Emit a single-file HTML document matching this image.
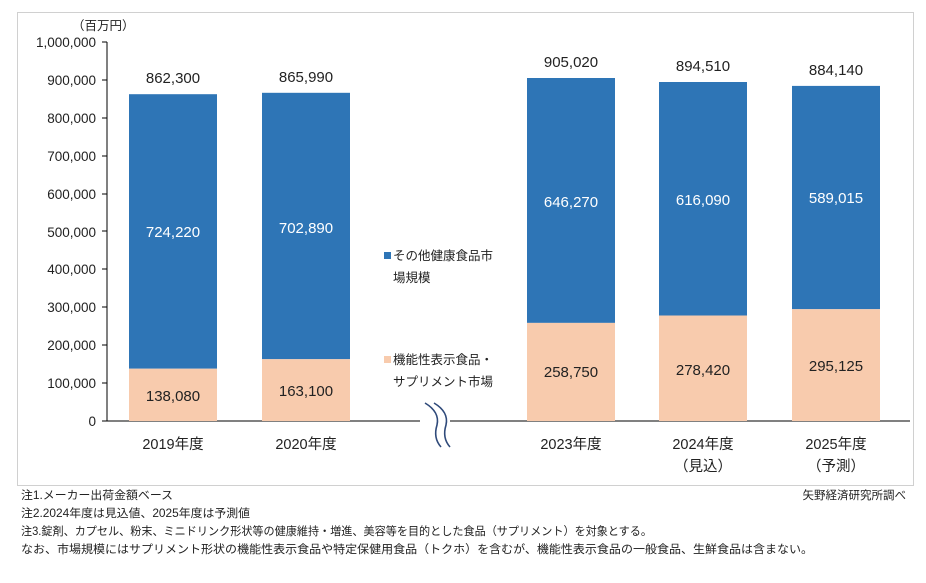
<!DOCTYPE html>
<html><head><meta charset="utf-8"><style>
body{margin:0;background:#fff;width:926px;height:578px;overflow:hidden;font-family:"Liberation Sans","Noto Sans CJK JP",sans-serif;}
svg text{font-family:"Liberation Sans","Noto Sans CJK JP",sans-serif;}
</style></head><body>
<svg width="926" height="578" xmlns="http://www.w3.org/2000/svg">
<rect x="17.5" y="12.5" width="896" height="473" fill="none" stroke="#d0d0d0"/>
<text x="72" y="30" font-size="12.5" fill="#222">（百万円）</text>
<g font-size="13.5" fill="#222" text-anchor="end">
<text x="96" y="47">1,000,000</text><text x="96" y="85">900,000</text><text x="96" y="123">800,000</text>
<text x="96" y="161">700,000</text><text x="96" y="199">600,000</text><text x="96" y="237">500,000</text>
<text x="96" y="274">400,000</text><text x="96" y="312">300,000</text><text x="96" y="350">200,000</text>
<text x="96" y="388">100,000</text><text x="96" y="426">0</text>
</g>
<g stroke="#000" stroke-width="1">
<line x1="107" y1="42" x2="107" y2="421"/>
<line x1="107" y1="421" x2="910" y2="421"/>
<line x1="102" y1="42" x2="107" y2="42"/><line x1="102" y1="80" x2="107" y2="80"/><line x1="102" y1="118" x2="107" y2="118"/>
<line x1="102" y1="156" x2="107" y2="156"/><line x1="102" y1="194" x2="107" y2="194"/><line x1="102" y1="231" x2="107" y2="231"/>
<line x1="102" y1="269" x2="107" y2="269"/><line x1="102" y1="307" x2="107" y2="307"/><line x1="102" y1="345" x2="107" y2="345"/>
<line x1="102" y1="383" x2="107" y2="383"/><line x1="102" y1="421" x2="107" y2="421"/>
</g>
<g>
<rect x="129" y="94.2" width="88" height="274.5" fill="#2e75b6"/><rect x="129" y="368.7" width="88" height="52.3" fill="#f8cbad"/>
<rect x="262" y="92.8" width="88" height="266.4" fill="#2e75b6"/><rect x="262" y="359.2" width="88" height="61.8" fill="#f8cbad"/>
<rect x="527" y="78" width="88" height="244.9" fill="#2e75b6"/><rect x="527" y="322.9" width="88" height="98.1" fill="#f8cbad"/>
<rect x="659" y="82" width="88" height="233.5" fill="#2e75b6"/><rect x="659" y="315.5" width="88" height="105.5" fill="#f8cbad"/>
<rect x="792" y="85.9" width="88" height="223.3" fill="#2e75b6"/><rect x="792" y="309.2" width="88" height="111.8" fill="#f8cbad"/>
</g>
<g font-size="15" text-anchor="middle" fill="#222">
<text x="173" y="83">862,300</text><text x="306" y="82">865,990</text><text x="571" y="67">905,020</text><text x="703" y="71">894,510</text><text x="836" y="75">884,140</text>
<text x="173" y="401">138,080</text><text x="306" y="396">163,100</text><text x="571" y="377">258,750</text><text x="703" y="375">278,420</text><text x="836" y="371">295,125</text>
</g>
<g font-size="15" text-anchor="middle" fill="#fff">
<text x="173" y="237">724,220</text><text x="306" y="233">702,890</text><text x="571" y="207">646,270</text><text x="703" y="205">616,090</text><text x="836" y="203">589,015</text>
</g>
<g font-size="14.5" text-anchor="middle" fill="#222">
<text x="173" y="449">2019年度</text><text x="306" y="449">2020年度</text><text x="571" y="449">2023年度</text>
<text x="703" y="449">2024年度</text><text x="703" y="471">（見込）</text>
<text x="836" y="449">2025年度</text><text x="836" y="471">（予測）</text>
</g>
<rect x="420" y="405" width="30" height="45" fill="#fff"/>
<path d="M425,403 Q440,412 437,425 Q433,438 441,447" fill="none" stroke="#2f4a7a" stroke-width="1.6"/>
<path d="M434,403 Q449,412 446,425 Q442,438 450,447" fill="none" stroke="#2f4a7a" stroke-width="1.6"/>
<rect x="384" y="252" width="7" height="7" fill="#2e75b6"/>
<text x="393" y="260" font-size="12.5" fill="#222">その他健康食品市</text>
<text x="393" y="282" font-size="12.5" fill="#222">場規模</text>
<rect x="384" y="356" width="7" height="7" fill="#f8cbad"/>
<text x="393" y="364" font-size="12.5" fill="#222">機能性表示食品・</text>
<text x="393" y="386" font-size="12.5" fill="#222">サプリメント市場</text>
<g font-size="11.5" fill="#222">
<text x="21" y="499" textLength="152" lengthAdjust="spacingAndGlyphs">注1.メーカー出荷金額ベース</text>
<text x="21" y="517" textLength="229" lengthAdjust="spacingAndGlyphs">注2.2024年度は見込値、2025年度は予測値</text>
<text x="21" y="535" textLength="631" lengthAdjust="spacingAndGlyphs">注3.錠剤、カプセル、粉末、ミニドリンク形状等の健康維持・増進、美容等を目的とした食品（サプリメント）を対象とする。</text>
<text x="21" y="553" textLength="792" lengthAdjust="spacingAndGlyphs">なお、市場規模にはサプリメント形状の機能性表示食品や特定保健用食品（トクホ）を含むが、機能性表示食品の一般食品、生鮮食品は含まない。</text>
<text x="906" y="499" text-anchor="end">矢野経済研究所調べ</text>
</g>
</svg>
</body></html>
